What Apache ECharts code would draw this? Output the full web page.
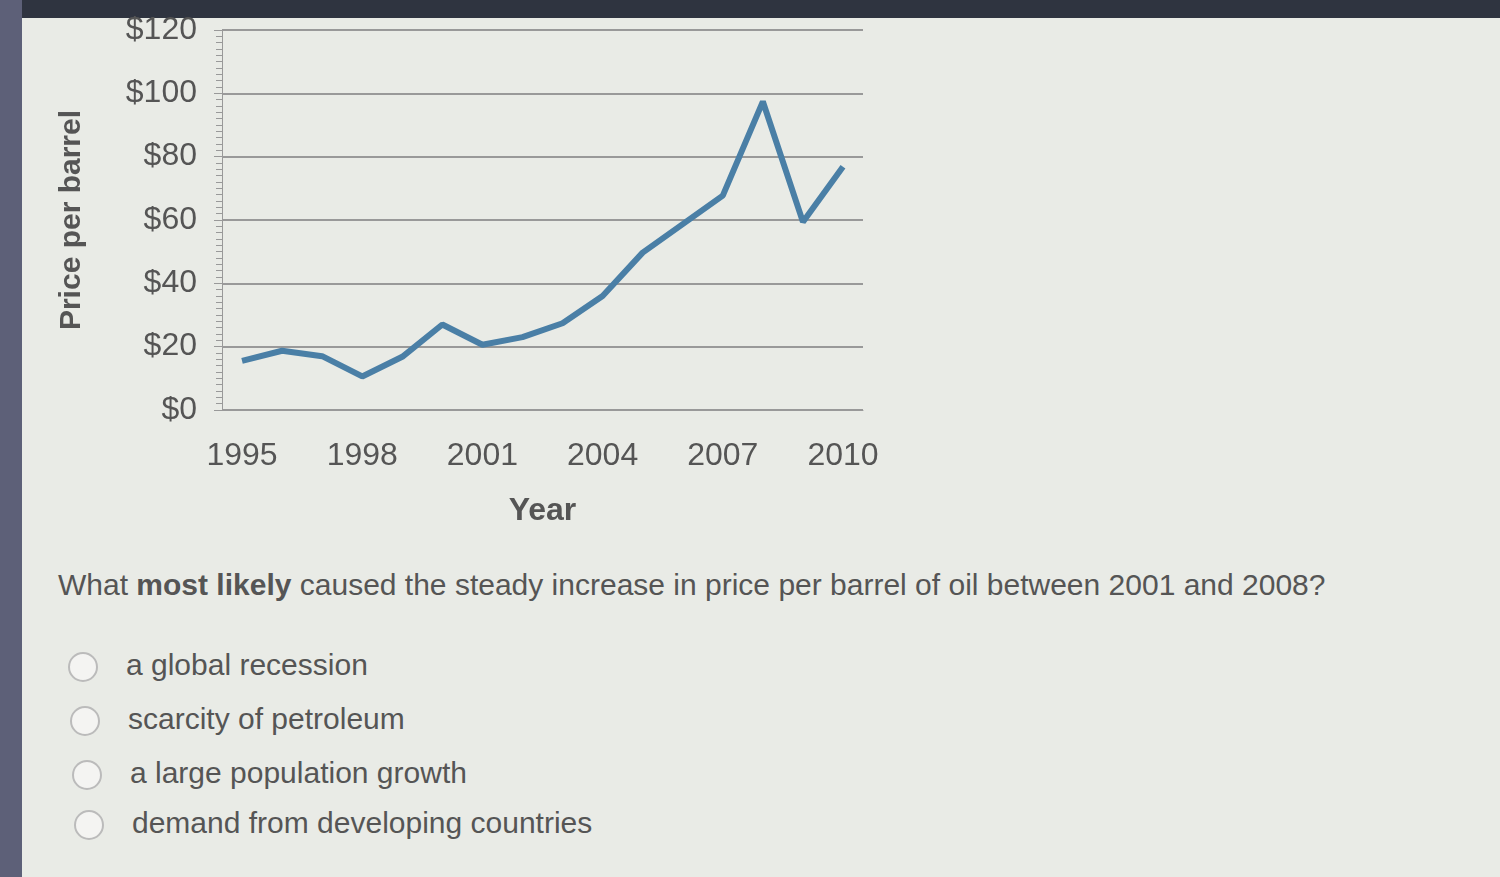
<!DOCTYPE html>
<html><head><meta charset="utf-8">
<script src="https://cdn.jsdelivr.net/npm/echarts@6/dist/echarts.min.js"></script>
<style>
body{margin:0;width:1500px;height:877px;background:#e9ebe6;font-family:"Liberation Sans",Arial,sans-serif;overflow:hidden;position:relative}
#top{position:absolute;left:0;top:0;width:1500px;height:18px;background:#2f3440}
#side{position:absolute;left:0;top:0;width:22px;height:877px;background:#5d6078}
#chart{position:absolute;left:22px;top:0;width:1000px;height:540px}
#q{position:absolute;left:58px;top:568px;font-size:30px;color:#555}
.opt{position:absolute;font-size:30px;color:#555}
.opt span{display:inline-block;width:26px;height:26px;border:2px solid #bbb;border-radius:50%;vertical-align:middle;margin-right:28px;background:#f4f4f2}
</style></head><body>
<div id="top"></div><div id="side"></div>
<div id="chart"></div>
<div id="q">What <b>most likely</b> caused the steady increase in price per barrel of oil between 2001 and 2008?</div>
<div class="opt" style="left:68px;top:648px"><span></span>a global recession</div>
<div class="opt" style="left:70px;top:702px"><span></span>scarcity of petroleum</div>
<div class="opt" style="left:72px;top:756px"><span></span>a large population growth</div>
<div class="opt" style="left:74px;top:806px"><span></span>demand from developing countries</div>
<script>
const years=[1995,1996,1997,1998,1999,2000,2001,2002,2003,2004,2005,2006,2007,2008,2009,2010];
const prices=[15.5,18.7,17,10.6,16.8,27,20.6,23,27.4,36,49.7,58.7,67.7,97.4,59.4,76.8];
const xTicks=[1995,1998,2001,2004,2007,2010];
const c=echarts.init(document.getElementById('chart'));
c.setOption({
 animation:false,
 grid:{left:200,right:159,top:30,bottom:130},
 xAxis:{type:'value',min:1994.5,max:2010.5,name:'Year',nameLocation:'middle',nameGap:85,
  nameTextStyle:{fontSize:32,fontWeight:'bold',color:'#555'},
  axisLine:{show:true,lineStyle:{color:'#999'}},axisTick:{show:false},splitLine:{show:false},
  axisLabel:{customValues:xTicks,fontSize:32,color:'#555',margin:30,formatter:v=>String(v)}},
 yAxis:{type:'value',min:0,max:120,interval:20,name:'Price per barrel',nameLocation:'middle',nameGap:135,
  nameTextStyle:{fontSize:30,fontWeight:'bold',color:'#555'},
  axisLine:{show:true,lineStyle:{color:'#999'}},axisTick:{show:true,length:8,lineStyle:{color:'#999'}},
  minorTick:{show:true,splitNumber:10,length:6,lineStyle:{color:'#999'}},
  splitLine:{lineStyle:{color:'#999',width:2}},
  axisLabel:{fontSize:32,color:'#555',margin:25,formatter:v=>'$'+v}},
 series:[{type:'line',data:years.map((y,i)=>[y,prices[i]]),symbol:'none',
  lineStyle:{color:'#4a7fa6',width:6}}]
});
</script></body></html>
